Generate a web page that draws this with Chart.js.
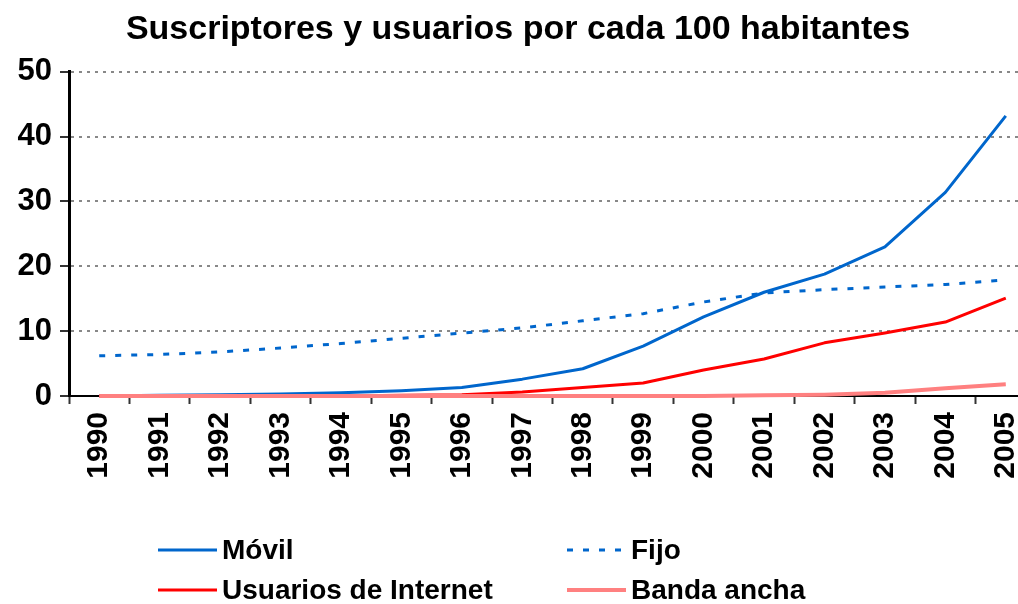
<!DOCTYPE html>
<html>
<head>
<meta charset="utf-8">
<script src="https://cdn.jsdelivr.net/npm/chart.js@4.4.1/dist/chart.umd.min.js"></script>
<style>
  html, body { margin: 0; padding: 0; background: #fff; overflow: hidden; }
  #wrap { width: 1036px; height: 604px; }
</style>
</head>
<body>
<div id="wrap"><canvas id="chart" width="1036" height="604"></canvas></div>
<script>
// Data
const years = ['1990', '1991', '1992', '1993', '1994', '1995', '1996', '1997',
               '1998', '1999', '2000', '2001', '2002', '2003', '2004', '2005'];
const movil    = [0, 0.1, 0.2, 0.3, 0.5, 0.8, 1.3, 2.6, 4.2, 7.7, 12.2, 16.0, 18.8, 23.0, 31.4, 43.2];
const fijo     = [6.2, 6.4, 6.8, 7.4, 8.1, 8.9, 9.7, 10.5, 11.6, 12.7, 14.5, 15.9, 16.4, 16.8, 17.2, 17.9];
const internet = [0, 0, 0, 0, 0, 0.1, 0.2, 0.6, 1.3, 2.0, 4.0, 5.7, 8.2, 9.7, 11.4, 15.1];
const banda    = [0, 0, 0, 0, 0, 0, 0, 0, 0, 0, 0, 0.1, 0.2, 0.5, 1.2, 1.8];
const yTicks   = [0, 10, 20, 30, 40, 50];

const FONT = '"Liberation Sans", Arial, sans-serif';

// 2x2 legend, drawn on the canvas
const gridLegend = {
  id: 'gridLegend',
  afterDraw(chart) {
    const ctx = chart.ctx;
    const cols = [158, 567];
    const rows = [550, 590];
    ctx.save();
    ctx.font = 'bold 28px ' + FONT;
    ctx.textBaseline = 'middle';
    ctx.fillStyle = '#000';
    chart.data.datasets.forEach((ds, i) => {
      const x = cols[i % 2], y = rows[Math.floor(i / 2)];
      ctx.beginPath();
      ctx.strokeStyle = ds.borderColor;
      ctx.lineWidth = ds.borderWidth;
      ctx.setLineDash(ds.borderDash || []);
      ctx.moveTo(x, y);
      ctx.lineTo(x + 59, y);
      ctx.stroke();
      ctx.setLineDash([]);
      ctx.fillText(ds.label, x + 64, y + 1);
    });
    ctx.restore();
  }
};

new Chart(document.getElementById('chart'), {
  type: 'line',
  data: {
    labels: years,
    datasets: [{
      label: 'Móvil',
      data: movil,
      borderColor: '#0066CC',
      borderWidth: 3,
      order: 3
    }, {
      label: 'Fijo',
      data: fijo,
      borderColor: '#0066CC',
      borderWidth: 3,
      borderDash: [6, 10],
      order: 4
    }, {
      label: 'Usuarios de Internet',
      data: internet,
      borderColor: '#FF0000',
      borderWidth: 3,
      order: 2
    }, {
      label: 'Banda ancha',
      data: banda,
      borderColor: '#FF8080',
      borderWidth: 4,
      order: 1
    }]
  },
  options: {
    responsive: false,
    animation: false,
    elements: {
      point: { radius: 0, hoverRadius: 0 },
      line: { tension: 0, borderJoinStyle: 'round', fill: false }
    },
    datasets: { line: { clip: 6 } },
    layout: { padding: { left: 0, right: 0, top: 0, bottom: 108 } },
    plugins: {
      legend: { display: false },
      tooltip: { enabled: false },
      title: {
        display: true,
        text: 'Suscriptores y usuarios por cada 100 habitantes',
        color: '#000',
        font: { family: FONT, size: 34, weight: 'bold' },
        padding: { top: 9, bottom: 22 }
      }
    },
    scales: {
      x: {
        offset: true,
        afterFit: s => { s.height = 100; s.paddingLeft = 0; s.paddingRight = 0; },
        grid: {
          display: true,
          offset: true,
          drawOnChartArea: false,
          drawTicks: true,
          tickLength: 8,
          tickColor: '#333',
          tickWidth: 2
        },
        border: { color: '#000', width: 2 },
        ticks: {
          minRotation: 90,
          maxRotation: 90,
          autoSkip: false,
          padding: 8,
          color: '#000',
          font: { family: FONT, size: 30, weight: 'bold' }
        }
      },
      y: {
        min: 0,
        max: 50,
        afterFit: s => { s.width = 69; },
        afterBuildTicks: s => { s.ticks = yTicks.map(v => ({ value: v })); },
        grid: {
          color: '#888',
          lineWidth: 2,
          drawTicks: true,
          tickLength: 9,
          tickColor: '#333',
          tickWidth: 2,
          tickBorderDash: []
        },
        border: { color: '#000', width: 3, dash: [3, 5] },
        ticks: {
          padding: 8,
          color: '#000',
          font: { family: FONT, size: 31, weight: 'bold' }
        }
      }
    }
  },
  plugins: [gridLegend]
});
</script>
</body>
</html>
